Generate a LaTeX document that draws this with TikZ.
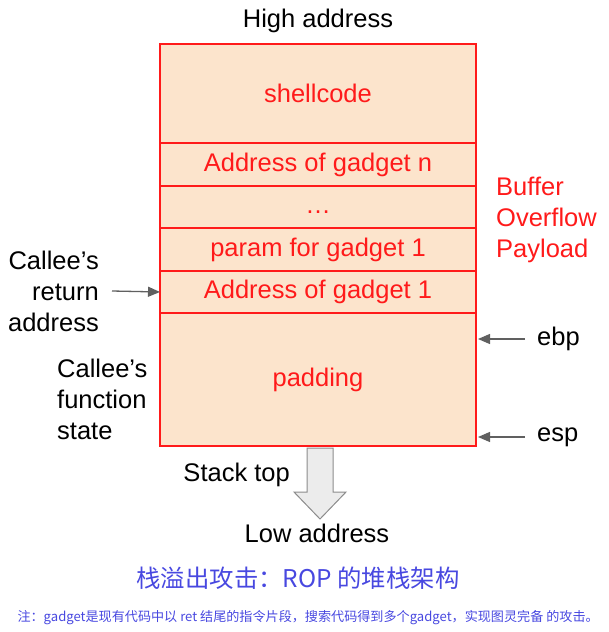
\documentclass[tikz,border=0pt]{standalone}
\usepackage{fontspec}
\setmainfont{Liberation Sans}
\newfontfamily\cjk{Noto Sans CJK SC}
\usetikzlibrary{positioning,arrows.meta}

\definecolor{stackfill}{HTML}{FCE4CC}
\definecolor{stackred}{HTML}{FF1A1A}
\definecolor{ptrgray}{HTML}{606060}
\definecolor{capblue}{HTML}{4848E0}

\tikzset{
  cell/.style={draw=stackred, fill=stackfill, line width=1.5pt, text=stackred,
    minimum width=316pt, outer sep=0pt, inner sep=0pt,
    font=\fontsize{25.5}{30}\selectfont},
  lbl/.style={font=\fontsize{25.5}{31}\selectfont, inner sep=0pt},
  ptr/.style={draw=ptrgray, line width=1.3pt, -{Triangle[length=12pt,width=10pt]}}
}

\begin{document}
\begin{tikzpicture}[x=1pt,y=-1pt,node distance=0pt]
  \useasboundingbox (0,0) rectangle (609,632);

  % stack cells, top to bottom
  \node[cell, minimum height=99pt] (shell) at (318,93.5) {shellcode};
  \node[cell, minimum height=43pt, below=of shell] (gadn) {Address of gadget n};
  \node[cell, minimum height=42pt, below=of gadn] (dots) {\vphantom{Ag}\dots};
  \node[cell, minimum height=43pt, below=of dots] (param) {param for gadget 1};
  \node[cell, minimum height=42pt, below=of param] (gad1) {Address of gadget 1};
  \node[cell, minimum height=133pt, below=of gad1] (pad) {padding};

  \node[lbl] (high) at (318,21) {High address};
  \node[lbl, text=stackred, align=left, anchor=west] (payload) at (496,220)
    {Buffer\\Overflow\\Payload};

  % left side
  \node[lbl, align=right, anchor=east] (retaddr) at (99,291)
    {Callee's\\return\\address};
  \node[lbl, align=left, anchor=west] (fstate) at (57,399)
    {Callee's\\function\\state};
  \draw[ptr] ([xshift=13pt]retaddr.east) -- (gad1.west);

  % right side
  \node[lbl, anchor=west] (ebp) at (537,339) {ebp};
  \node[lbl, anchor=west] (esp) at (537,437) {esp};
  \coordinate (ebpmark) at (478,339);
  \coordinate (espmark) at (478,437);
  \draw[ptr] ([xshift=-12pt]ebp.west) -- (ebpmark);
  \draw[ptr] ([xshift=-12pt]esp.west) -- (espmark);

  % growth arrow
  \draw[draw=gray!90, fill=gray!15, line width=1pt]
    (307,448) -- (333,448) -- (333,492) -- (346,492) -- (320,519)
    -- (294,492) -- (307,492) -- cycle;
  \node[lbl, anchor=east] (top) at (290,475) {Stack top};
  \node[lbl] (low) at (317,533) {Low address};

  % captions
  \node[text=capblue, font=\cjk\fontsize{24.4}{28}\selectfont] (title) at (298,578)
    {栈溢出攻击：ROP 的堆栈架构};
  \node[text=capblue, font=\cjk\fontsize{13.1}{16}\selectfont, anchor=west] (note) at (14,618)
    {注：gadget是现有代码中以 ret 结尾的指令片段，搜索代码得到多个gadget，实现图灵完备 的攻击。};
\end{tikzpicture}
\end{document}
